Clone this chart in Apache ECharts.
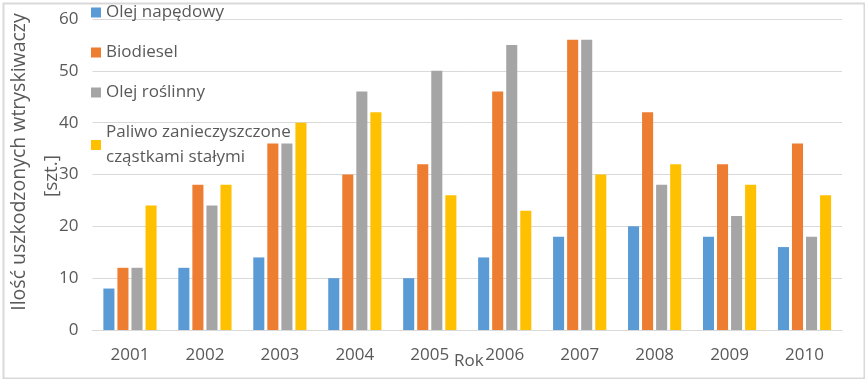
<!DOCTYPE html>
<html><head><meta charset="utf-8">
<script src="https://cdn.jsdelivr.net/npm/echarts@6/dist/echarts.min.js"></script>
<style>html,body{margin:0;padding:0;background:#fff}#c{width:865px;height:379px}</style>
</head><body><div id="c"></div>
<script>
const years = ['2001','2002','2003','2004','2005','2006','2007','2008','2009','2010'];
const olejNapedowy = [8,12,14,10,10,14,18,20,18,16];
const biodiesel = [12,28,36,30,32,46,56,42,32,36];
const olejRoslinny = [12,24,36,46,50,55,56,28,22,18];
const paliwoZanieczyszczone = [24,28,40,42,26,23,30,32,28,26];
const seriesNames = ['Olej napędowy','Biodiesel','Olej roślinny','Paliwo zanieczyszczone\ncząstkami stałymi'];
const colors = ['#5b9bd5','#ed7d31','#a5a5a5','#ffc000'];
const font = '"Open Sans", sans-serif';
const txt = '#595959';

const chart = echarts.init(document.getElementById('c'));
const mk = (name, data) => ({ name, type:'bar', data, barGap:'27%', barCategoryGap:'29%' });
chart.setOption({
  animation:false,
  color: colors,
  textStyle:{fontFamily:font},
  grid:{left:92.5, right:23, top:19, bottom:49, outerBoundsMode:'none', containLabel:false},
  legend:{
    orient:'vertical', left:91, top:0, itemWidth:10, itemHeight:10, itemGap:15,
    icon:'rect', padding:0,
    textStyle:{color:txt, fontSize:17, fontFamily:font, lineHeight:25},
    data: seriesNames
  },
  xAxis:{
    type:'category', data:years,
    axisTick:{show:false},
    axisLine:{lineStyle:{color:'#d9d9d9'}},
    axisLabel:{color:txt, fontSize:17, margin:17, fontFamily:font},
    name:'Rok', nameLocation:'middle', nameGap:23, nameMoveOverlap:false,
    nameTextStyle:{color:txt, fontSize:17, fontFamily:font, padding:[0,0,0,3]}
  },
  yAxis:{
    type:'value', min:0, max:60, interval:10,
    axisLabel:{color:txt, fontSize:17, margin:14, fontFamily:font},
    splitLine:{lineStyle:{color:'#d9d9d9'}},
    axisLine:{show:false}, axisTick:{show:false}
  },
  graphic:[
    {type:'rect', left:1, top:1, shape:{width:861, height:375}, style:{fill:'none', stroke:'#d9d9d9', lineWidth:2}, silent:true},
    {type:'text', x:19, y:162, rotation:Math.PI/2, style:{text:'Ilość uszkodzonych wtryskiwaczy', fill:txt, fontSize:19.5, fontFamily:font, align:'center', verticalAlign:'middle'}},
    {type:'text', x:52, y:176, rotation:Math.PI/2, style:{text:'[szt.]', fill:txt, fontSize:19, fontFamily:font, align:'center', verticalAlign:'middle'}}
  ],
  series:[
    mk(seriesNames[0], olejNapedowy),
    mk(seriesNames[1], biodiesel),
    mk(seriesNames[2], olejRoslinny),
    mk(seriesNames[3], paliwoZanieczyszczone)
  ]
});
</script></body></html>
